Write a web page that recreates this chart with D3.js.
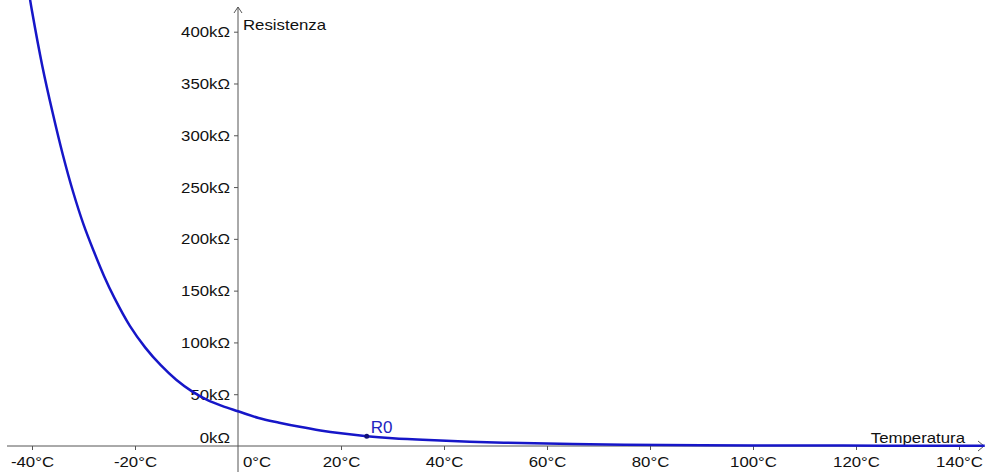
<!DOCTYPE html>
<html>
<head>
<meta charset="utf-8">
<script src="https://cdn.jsdelivr.net/npm/d3@7"></script>
<style>
  body { margin: 0; background: #fff; }
  svg text { font-family: "Liberation Sans", Arial, sans-serif; font-size: 14px; fill: #111; }
</style>
</head>
<body>
<svg id="chart" width="985" height="472"></svg>
<script>
// temperature (°C) and resistance (kΩ)
var temps = [-41, -40, -38, -36, -34, -32, -30, -28, -26, -24, -21, -18, -15, -12, -9, -6, -3,
    0, 4, 8, 12, 16, 20, 25, 30, 37, 45, 55, 65, 75, 90, 110, 125, 145]
var resist = [450, 420, 367, 322, 281, 245, 214, 188, 164, 143, 116, 95, 78, 64, 53, 44.5, 38.5,
    33.5, 27, 22.5, 18.5, 15, 12.2, 9.5, 7.6, 5.8, 4.2, 2.8, 1.9, 1.3, 0.8, 0.45, 0.3, 0.2]

var xTicks = [-40, -20, 20, 40, 60, 80, 100, 120, 140]
var yTicks = [50, 100, 150, 200, 250, 300, 350, 400]
var r0 = { t: 25, r: 9.5, label: "R0" }

var svg = d3.select("#chart")
var stretch = 1.2 // the labels in the picture are a bit wider than tall

var x = d3.scaleLinear().domain([0, 140]).range([238, 959])
var y = d3.scaleLinear().domain([0, 400]).range([446, 31.7])

var axisColor = "#555"

// axis lines
svg.append("line")
    .attr("x1", 7).attr("x2", 984)
    .attr("y1", y(0)).attr("y2", y(0))
    .attr("stroke", axisColor).attr("stroke-width", 1)
svg.append("line")
    .attr("x1", x(0)).attr("x2", x(0))
    .attr("y1", 7).attr("y2", 472)
    .attr("stroke", axisColor).attr("stroke-width", 1)

// arrow heads
svg.append("path")
    .attr("d", "M" + (x(0) - 4) + ",13 L" + x(0) + ",7 L" + (x(0) + 4) + ",13")
    .attr("fill", "none").attr("stroke", axisColor)
svg.append("path")
    .attr("d", "M978," + (y(0) - 5) + " L984," + y(0) + " L978," + (y(0) + 5))
    .attr("fill", "none").attr("stroke", axisColor)

// x axis ticks
var gx = svg.append("g")
    .attr("transform", "translate(0," + y(0) + ")")
    .call(d3.axisBottom(x).tickValues(xTicks).tickSize(4).tickFormat(d => d + "°C"))
gx.select(".domain").remove()
gx.selectAll(".tick line").attr("stroke", axisColor)
gx.selectAll(".tick text")
    .attr("y", null).attr("dy", null)
    .attr("transform", "translate(0,21) scale(" + stretch + ",1)")
    .attr("font-size", null).attr("font-family", null)

// y axis ticks
var gy = svg.append("g")
    .attr("transform", "translate(" + x(0) + ",0)")
    .call(d3.axisLeft(y).tickValues(yTicks).tickSize(4).tickFormat(d => d + "kΩ"))
gy.select(".domain").remove()
gy.selectAll(".tick line").attr("stroke", axisColor)
gy.selectAll(".tick text")
    .attr("x", null).attr("dy", null)
    .attr("transform", "translate(-8,5) scale(" + stretch + ",1)")
    .attr("font-size", null).attr("font-family", null)

function label(px, py, str, anchor, color) {
    return svg.append("text")
        .attr("transform", "translate(" + px + "," + py + ") scale(" + stretch + ",1)")
        .attr("text-anchor", anchor || "start")
        .style("fill", color || "#111")
        .text(str)
}

// origin labels and axis titles
label(x(0) + 5, 467, "0°C")
label(x(0) - 8, 443, "0kΩ", "end")
label(x(0) + 5, 30, "Resistenza")
label(965, 443, "Temperatura", "end")

// curve
var pts = temps.map((t, i) => ({ t: t, r: resist[i] }))
var line = d3.line()
    .x(d => x(d.t))
    .y(d => y(d.r))
    .curve(d3.curveCatmullRom.alpha(0.5))

svg.append("path")
    .datum(pts)
    .attr("d", line)
    .attr("fill", "none")
    .attr("stroke", "#1616c8")
    .attr("stroke-width", 2.5)

// R0 point
svg.append("circle")
    .attr("cx", x(r0.t)).attr("cy", y(r0.r))
    .attr("r", 2.5)
    .attr("fill", "#10107a")
svg.append("text")
    .attr("x", x(r0.t) + 4).attr("y", y(r0.r) - 3.5)
    .style("font-size", "17px")
    .style("fill", "#2323c0")
    .text(r0.label)
</script>
</body>
</html>
